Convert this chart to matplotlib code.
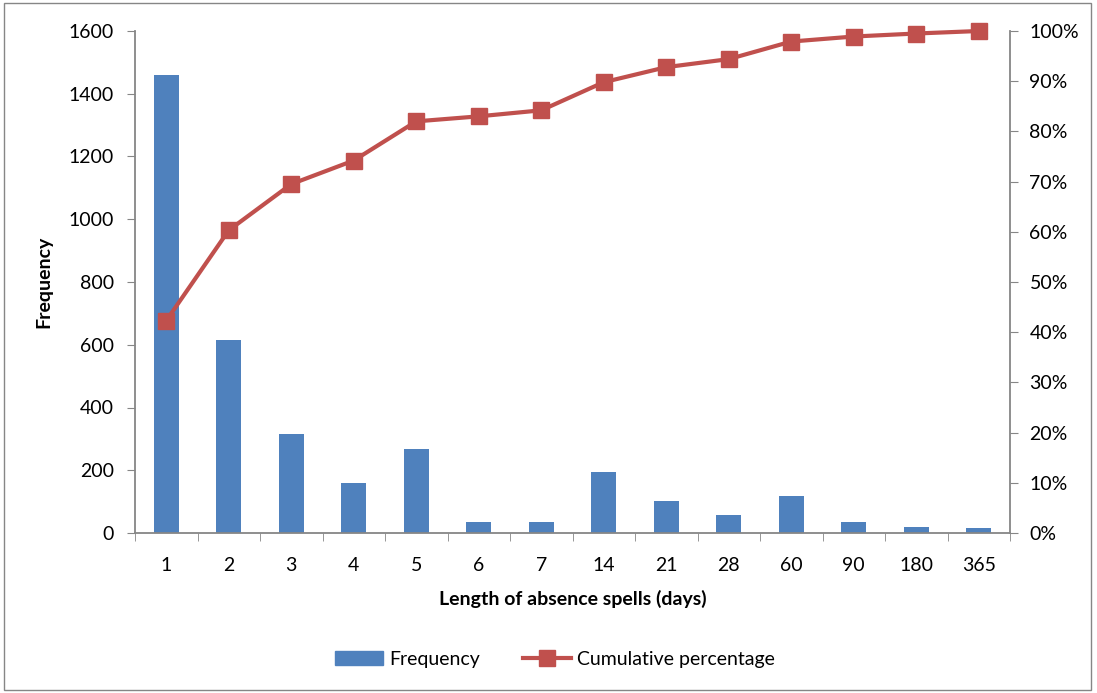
import matplotlib
matplotlib.use("Agg")
import matplotlib.pyplot as plt
from matplotlib.patches import Rectangle
from matplotlib.lines import Line2D
from matplotlib.ticker import FuncFormatter, MultipleLocator

categories = ["1", "2", "3", "4", "5", "6", "7", "14", "21", "28", "60", "90", "180", "365"]
frequency = [1460, 616, 314, 158, 268, 34, 36, 195, 102, 56, 118, 35, 20, 17]
cumulative_pct = [42.3, 60.3, 69.5, 74.2, 82.0, 83.0, 84.2, 89.8, 92.8, 94.4, 97.9, 98.9, 99.5, 100.0]

plt.rcParams['font.family'] = ['Lato', 'DejaVu Sans']
axis_color = "#868686"
bar_color = "#4F81BD"
line_color = "#C0504D"
fs = 14

fig = plt.figure(figsize=(10.97, 6.93), dpi=100)
fig.patches.append(Rectangle((4/1097, 3/693), 1087/1097, 687/693, transform=fig.transFigure,
                             fill=False, edgecolor=axis_color, linewidth=1))

ax = fig.add_axes([135/1097, 1 - 533/693, 875/1097, 502/693])
x = list(range(len(categories)))
ax.bar(x, frequency, width=0.4, color=bar_color, zorder=2)
ax.set_xlim(-0.5, len(categories) - 0.5)
ax.set_ylim(0, 1600)
ax.yaxis.set_major_locator(MultipleLocator(200))
ax.set_xticks(x)
ax.set_xticklabels(categories)
ax.set_xticks([i + 0.5 for i in range(-1, len(categories))], minor=True)
ax.tick_params(axis='x', which='major', length=0, pad=17, labelsize=fs, colors='black')
ax.tick_params(axis='x', which='minor', length=6, color=axis_color, direction='out')
ax.tick_params(axis='y', length=6, color=axis_color, labelsize=fs, pad=9)
for s in ['top', 'right']:
    ax.spines[s].set_visible(False)
for s in ['left', 'bottom']:
    ax.spines[s].set_color(axis_color)
    ax.spines[s].set_linewidth(1.3)
ax.set_xlabel("Length of absence spells (days)", fontsize=fs, fontweight='bold', labelpad=12)
ax.set_ylabel("Frequency", fontsize=fs, fontweight='bold', labelpad=12)

ax2 = ax.twinx()
ax2.plot(x, cumulative_pct, color=line_color, linewidth=3, marker='s', markersize=12,
         markerfacecolor=line_color, markeredgecolor=line_color, zorder=3, clip_on=False)
ax2.set_ylim(0, 100)
ax2.yaxis.set_major_locator(MultipleLocator(10))
ax2.yaxis.set_major_formatter(FuncFormatter(lambda v, p: f"{int(round(v))}%"))
ax2.tick_params(axis='y', length=6, color=axis_color, labelsize=fs, pad=8)
for s in ['top', 'left', 'bottom']:
    ax2.spines[s].set_visible(False)
ax2.spines['right'].set_color(axis_color)
ax2.spines['right'].set_linewidth(1.3)

handles = [Rectangle((0, 0), 1, 1, color=bar_color),
           Line2D([0], [0], color=line_color, linewidth=3, marker='s', markersize=12)]
fig.legend(handles, ["Frequency", "Cumulative percentage"], loc='center',
           bbox_to_anchor=(555/1097, 1 - 659/693), ncol=2, frameon=False, fontsize=fs,
           handlelength=2.5, columnspacing=2.2, handletextpad=0.3)

fig.savefig("out.png", dpi=100)
